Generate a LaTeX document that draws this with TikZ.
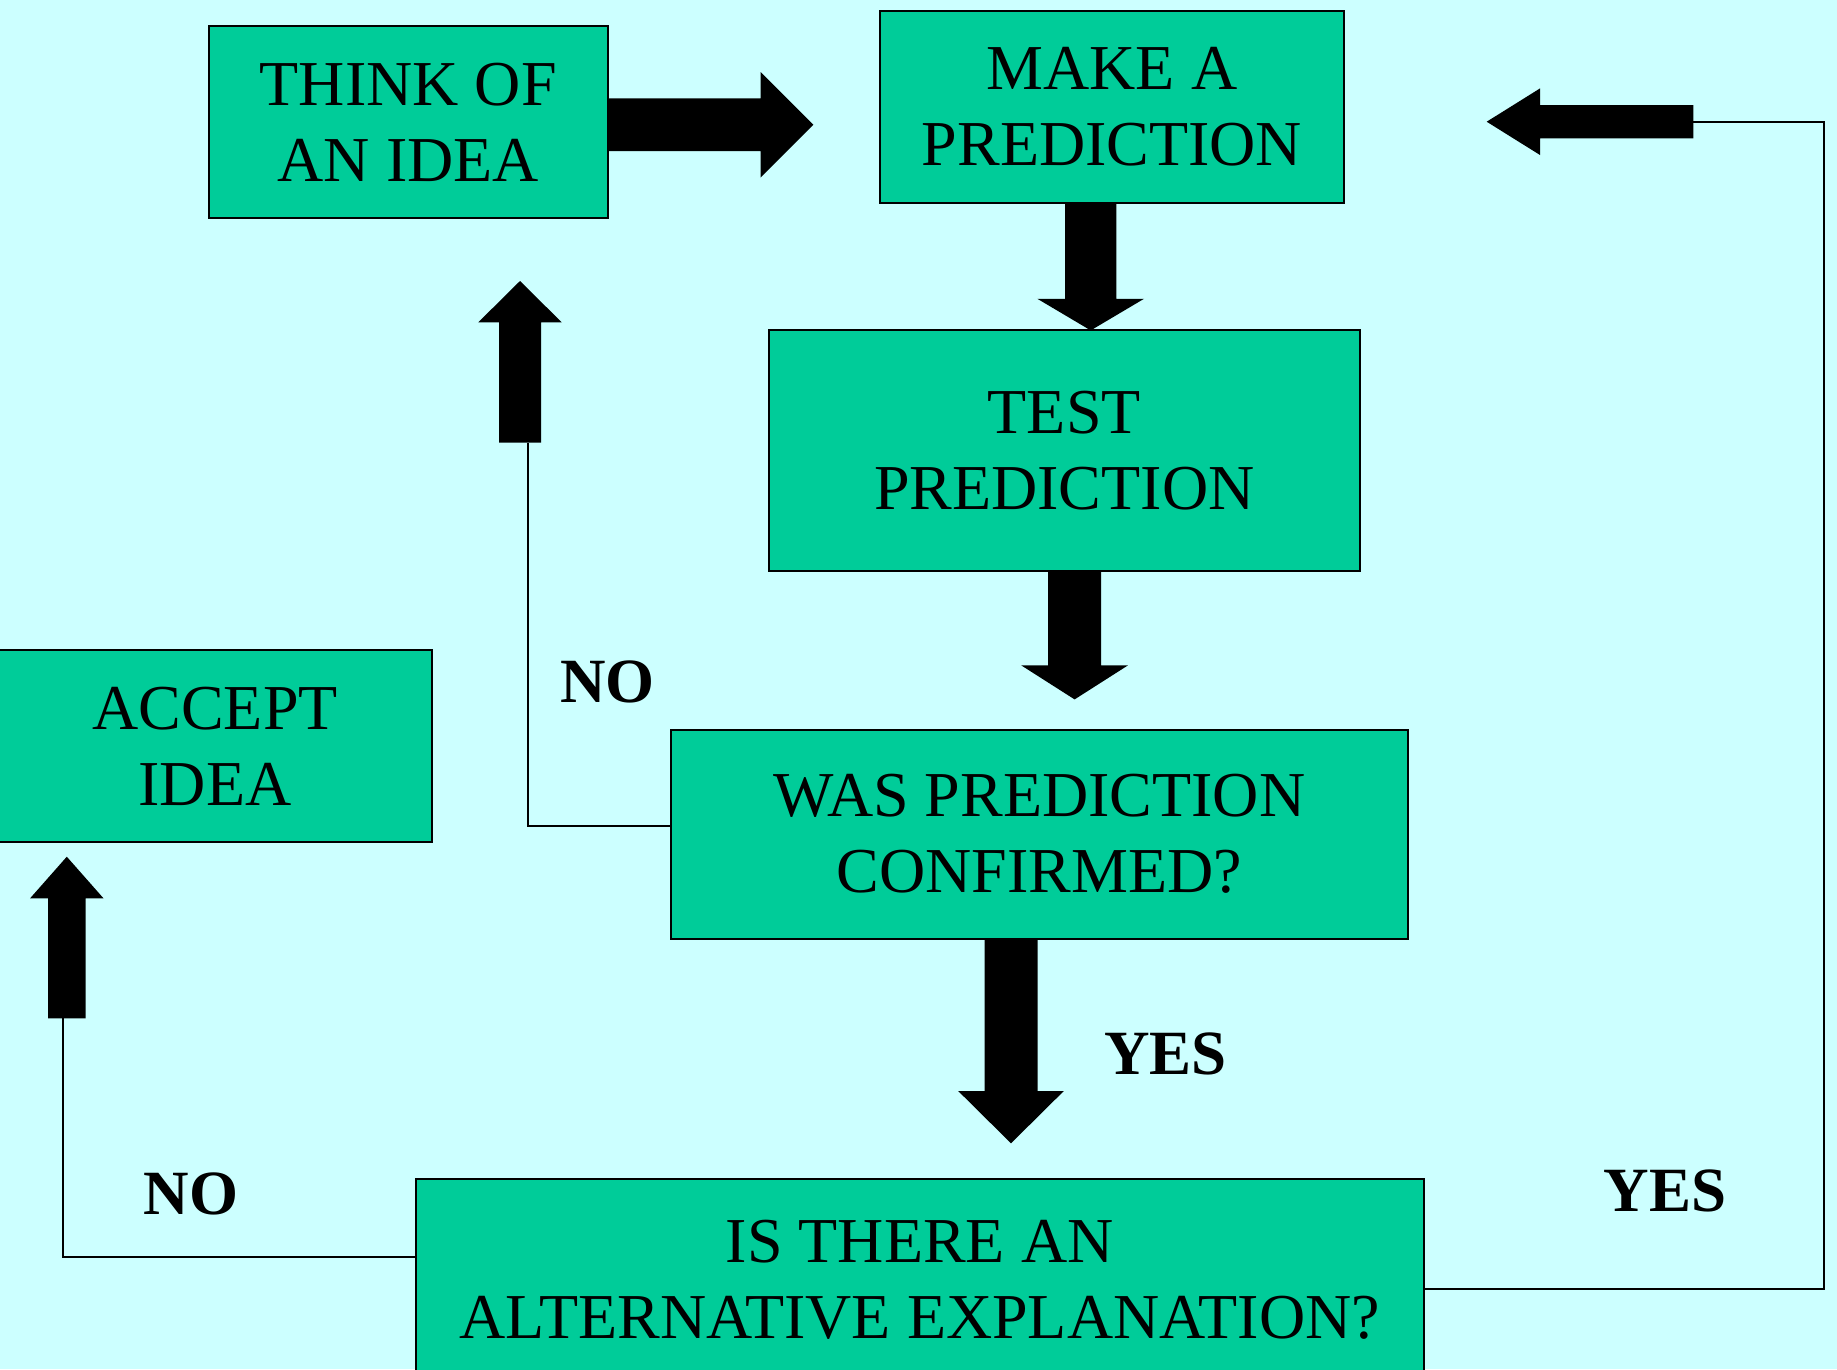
\documentclass[tikz,border=0pt]{standalone}
\usepackage{fontspec}
\setmainfont{Liberation Serif}
\usetikzlibrary{calc}
\definecolor{bgc}{HTML}{CCFFFF}
\definecolor{boxc}{HTML}{00CC99}
% #1 start, #2 tip, #3 shaft half width, #4 head half width, #5 head length
\newcommand{\blockarrow}[5]{%
  \coordinate (bh) at ($(#2)!#5!(#1)$);
  \fill[black] ($(#1)!#3!90:(#2)$) -- ($(bh)!#3!90:(#2)$) -- ($(bh)!#4!90:(#2)$) -- (#2)
    -- ($(bh)!#4!-90:(#2)$) -- ($(bh)!#3!-90:(#2)$) -- ($(#1)!#3!-90:(#2)$) -- cycle;}
\tikzset{
  stepbox/.style={draw=black, line width=2pt, fill=boxc, inner sep=0pt, align=center,
    font=\fontsize{64}{76}\selectfont},
  lbl/.style={font=\fontsize{63}{72}\selectfont\bfseries, anchor=base, inner sep=0pt},
  thin/.style={draw=black, line width=1.8pt}
}
\begin{document}
\begin{tikzpicture}[x=1pt,y=-1pt]
\useasboundingbox (0,0) rectangle (1837,1369);
\fill[bgc] (0,0) rectangle (1837,1369);
\clip (0,0) rectangle (1837,1369);
% boxes
\node[stepbox, minimum width=399.5pt, minimum height=192.2pt] (think) at (408.25,122) {THINK OF\\AN IDEA};
\node[stepbox, minimum width=464pt, minimum height=192.2pt] (make) at (1112,106.6) {MAKE A\\PREDICTION};
\node[stepbox, minimum width=591.5pt, minimum height=240.6pt] (test) at (1064.25,450.3) {TEST\\PREDICTION};
\node[stepbox, minimum width=737pt, minimum height=208.5pt] (was) at (1039.5,834.25) {WAS PREDICTION\\CONFIRMED?};
\node[stepbox, minimum width=1007.5pt, minimum height=201.4pt] (alt) at (919.75,1279.3) {IS THERE AN\\ALTERNATIVE EXPLANATION?};
\node[stepbox, minimum width=434pt, minimum height=192pt] (accept) at (215,746) {ACCEPT\\IDEA};
% arrow 1: think -> make
\coordinate (a1t) at (813.3,124.8);
\coordinate (a1s) at (think.east |- a1t);
\blockarrow{a1s}{a1t}{26.4pt}{52.7pt}{52.6pt}
% arrow 2: make -> test
\coordinate (a2t) at (1090.7,330.4);
\coordinate (a2s) at (a2t |- make.south);
\blockarrow{a2s}{a2t}{25.7pt}{53.3pt}{31.6pt}
% arrow 3: test -> was
\coordinate (a3t) at (1074.6,699.4);
\coordinate (a3s) at (a3t |- test.south);
\blockarrow{a3s}{a3t}{26.4pt}{53.3pt}{34pt}
% arrow 4: was -> alt
\coordinate (a4t) at (1011,1143.3);
\coordinate (a4s) at (a4t |- was.south);
\blockarrow{a4s}{a4t}{26.5pt}{52.8pt}{52.3pt}
% arrow 5: NO -> think
\coordinate (a5t) at (520,281);
\coordinate (a5s) at (520,442.7);
\blockarrow{a5s}{a5t}{21pt}{41.7pt}{41.3pt}
\coordinate (k1) at (528.3,826);
\draw[thin] (k1 -| was.west) -- (k1) -- (k1 |- a5s);
% arrow 6: NO -> accept
\coordinate (a6t) at (66.8,856.7);
\coordinate (a6s) at (66.8,1018.3);
\blockarrow{a6s}{a6t}{18.7pt}{36.7pt}{41.6pt}
\coordinate (k2) at (63.3,1256.7);
\draw[thin] (k2 -| alt.west) -- (k2) -- (k2 |- a6s);
% arrow 7: YES -> make
\coordinate (a7t) at (1486.7,121.7);
\coordinate (a7s) at (1693.3,121.7);
\blockarrow{a7s}{a7t}{16.7pt}{33.3pt}{53.3pt}
\coordinate (k3) at (1824,1289.3);
\draw[thin] (k3 -| alt.east) -- (k3) |- (a7s);
% labels
\node[lbl] (no1) at (607.5,702) {NO};
\node[lbl] (yes1) at (1165.5,1074) {YES};
\node[lbl] (no2) at (191,1214) {NO};
\node[lbl] (yes2) at (1665,1211) {YES};
\end{tikzpicture}
\end{document}
